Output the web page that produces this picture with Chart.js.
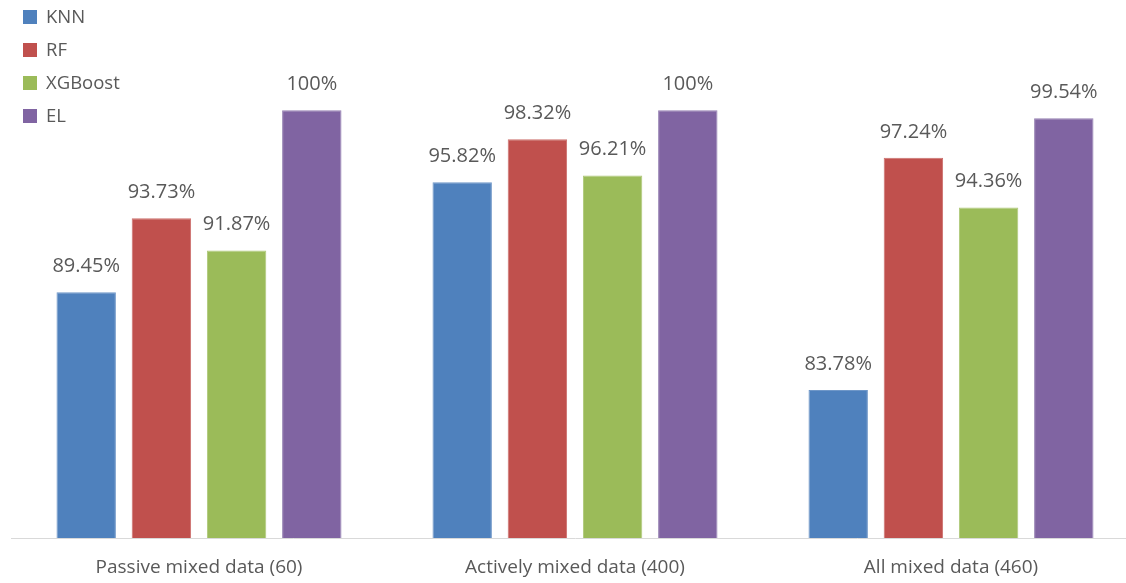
<!DOCTYPE html>
<html>
<head>
<meta charset="utf-8">
<script src="https://cdn.jsdelivr.net/npm/chart.js@4.4.0/dist/chart.umd.min.js"></script>
<style>
html,body{margin:0;padding:0;background:#fff;overflow:hidden;width:1126px;height:583px;}
#wrap{position:absolute;left:0;top:0;width:1139px;height:583px;}
</style>
</head>
<body>
<div id="wrap"><canvas id="c" width="1139" height="583"></canvas></div>
<script>
const categories = ["Passive mixed data (60)", "Actively mixed data (400)", "All mixed data (460)"];
const seriesNames = ["KNN", "RF", "XGBoost", "EL"];
const knn = [89.45, 95.82, 83.78];
const rf = [93.73, 98.32, 97.24];
const xgboost = [91.87, 96.21, 94.36];
const el = [100, 100, 99.54];
const valueLabels = [
  ["89.45%", "95.82%", "83.78%"],
  ["93.73%", "98.32%", "97.24%"],
  ["91.87%", "96.21%", "94.36%"],
  ["100%", "100%", "99.54%"]
];
const colors = ["#4F81BD", "#C0504D", "#9BBB59", "#8064A2"];
const borders = ["#6f97c8", "#cc706d", "#aec878", "#9580b2"];

const FONT = "'Open Sans', sans-serif";
const TEXT = "#595959";

const overlay = {
  id: 'overlay',
  afterDatasetsDraw(chart) {
    const ctx = chart.ctx;
    ctx.save();
    ctx.font = "20px " + FONT;
    ctx.fillStyle = TEXT;
    ctx.textAlign = 'center';
    ctx.textBaseline = 'middle';
    chart.data.datasets.forEach((ds, di) => {
      const meta = chart.getDatasetMeta(di);
      meta.data.forEach((bar, i) => {
        ctx.fillText(valueLabels[di][i], bar.x, bar.y - 26);
      });
    });
    ctx.font = "18.5px " + FONT;
    ctx.textAlign = 'left';
    chart.data.datasets.forEach((ds, di) => {
      const y = 10 + di * 33;
      ctx.fillStyle = ds.backgroundColor;
      ctx.fillRect(23, y, 14, 14);
      ctx.fillStyle = TEXT;
      ctx.fillText(ds.label, 46, y + 7.5);
    });
    ctx.restore();
  }
};

new Chart(document.getElementById('c'), {
  type: 'bar',
  data: {
    labels: categories,
    datasets: [knn, rf, xgboost, el].map((d, i) => ({
      label: seriesNames[i],
      data: d,
      backgroundColor: colors[i],
      borderColor: borders[i],
      borderWidth: 1,
      categoryPercentage: 0.8,
      barPercentage: 0.79
    }))
  },
  options: {
    responsive: false,
    animation: false,
    layout: { padding: { left: 11, right: 0, top: 0, bottom: 0 } },
    plugins: { legend: { display: false }, tooltip: { enabled: false } },
    scales: {
      x: {
        grid: { display: false, drawTicks: false },
        border: { display: true, color: '#d9d9d9', width: 1 },
        ticks: { color: TEXT, font: { family: FONT, size: 19 }, padding: 18, maxRotation: 0 },
        afterFit(scale) { scale.height = 45; }
      },
      y: {
        display: false,
        min: 75.2,
        max: 106.39
      }
    }
  },
  plugins: [overlay]
});
</script>
</body>
</html>
